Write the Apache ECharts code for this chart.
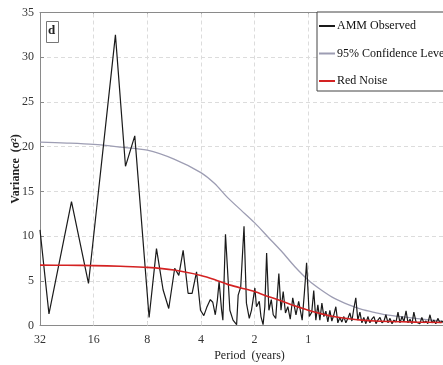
<!DOCTYPE html>
<html><head><meta charset="utf-8">
<script src="https://cdn.jsdelivr.net/npm/echarts@6/dist/echarts.min.js"></script>
<style>html,body{margin:0;padding:0;background:#fff}#c{width:443px;height:365px}</style>
</head><body><div id="c"></div>
<script>
// Period (years) and variance of the observed AMM spectrum
const obsPeriod = [32, 28.5, 21.3, 17.1, 12.07, 10.6, 9.40, 7.81, 7.10, 6.52,
  6.06, 5.61, 5.32, 5.03, 4.72, 4.48, 4.23, 4.02, 3.85, 3.71,
  3.54, 3.43, 3.32, 3.23, 3.16, 3.06, 3.01, 2.91, 2.75, 2.64,
  2.52, 2.47, 2.39, 2.29, 2.22, 2.14, 2.08, 1.99, 1.95, 1.88,
  1.84, 1.79, 1.75, 1.71, 1.66, 1.61, 1.57, 1.52, 1.46, 1.42,
  1.38, 1.34, 1.30, 1.26, 1.22, 1.17, 1.13, 1.08, 1.05, 1.02,
  0.985, 0.954, 0.93, 0.905, 0.882,
  0.859, 0.837, 0.816, 0.795, 0.775, 0.755, 0.736, 0.717, 0.699, 0.681,
  0.664, 0.647, 0.630, 0.614, 0.598, 0.583, 0.568, 0.554, 0.540, 0.526,
  0.512, 0.499, 0.487, 0.474, 0.462, 0.450, 0.439, 0.427, 0.416, 0.406,
  0.395, 0.385, 0.375, 0.366, 0.356, 0.347, 0.338, 0.330, 0.321, 0.313,
  0.305, 0.297, 0.290, 0.282, 0.275, 0.268, 0.261, 0.255, 0.248, 0.242,
  0.236, 0.230, 0.224, 0.218, 0.213, 0.207, 0.202, 0.197, 0.192, 0.187,
  0.182, 0.177, 0.173];
const obsVariance = [10.7, 1.3, 13.85, 4.7, 32.5, 17.8, 21.2, 0.9, 8.6, 4.0,
  1.9, 6.4, 5.6, 8.4, 3.6, 3.6, 6.0, 1.7, 1.1, 2.0,
  2.9, 2.6, 1.2, 2.9, 4.9, 1.7, 0.6, 10.2, 1.7, 0.6,
  0.1, 3.4, 4.3, 11.1, 2.5, 0.8, 1.7, 4.2, 2.1, 2.7,
  1.0, 0.1, 2.1, 8.1, 1.7, 2.9, 1.2, 0.8, 5.8, 1.7,
  3.8, 1.4, 2.1, 0.7, 3.1, 1.2, 2.7, 0.6, 3.6, 7.0,
  1.0, 1.5, 3.9, 0.6, 2.3,
  0.6, 2.5, 1.0, 1.6, 0.4, 1.7, 0.5, 1.2, 2.1, 0.3,
  0.9, 0.4, 1.0, 0.3, 0.8, 1.4, 0.5, 1.9, 3.1, 0.6,
  1.5, 0.3, 0.9, 0.2, 1.0, 0.3, 0.7, 1.0, 0.2, 0.6,
  0.9, 0.3, 0.5, 1.2, 0.3, 0.8, 0.2, 0.6, 0.4, 1.5,
  0.3, 1.0, 0.4, 1.65, 0.3, 0.7, 0.2, 1.5, 0.4, 0.6,
  0.2, 0.9, 0.3, 0.5, 0.2, 1.2, 0.3, 0.6, 0.2, 0.8,
  0.3, 0.5, 0.2];
// Theoretical curves
const curvePeriod = [32, 22.6, 16, 11.3, 8, 5.66, 4, 3.36, 2.83, 2.38, 2, 1.68, 1.41, 1.19, 1, 0.84, 0.707, 0.59, 0.5, 0.42, 0.354, 0.25, 0.177];
const redNoise = [6.75, 6.73, 6.7, 6.62, 6.5, 6.2, 5.6, 5.15, 4.6, 4.2, 3.8, 3.25, 2.75, 2.2, 1.7, 1.3, 0.98, 0.75, 0.6, 0.5, 0.45, 0.38, 0.33];
const confidence95 = [20.5, 20.4, 20.25, 19.95, 19.6, 18.6, 17.1, 15.9, 14.3, 12.9, 11.5, 9.9, 8.3, 6.6, 5.1, 3.95, 3.0, 2.3, 1.8, 1.45, 1.15, 0.8, 0.5];
const xTicks = [32, 16, 8, 4, 2, 1];
const seriesNames = ['AMM Observed', '95% Confidence Level', 'Red Noise'];

const serif = 'Liberation Serif, Times New Roman, serif';
const zip = (xs, ys) => xs.map((x, i) => [x, ys[i]]);

const chart = echarts.init(document.getElementById('c'), null, {renderer: 'canvas'});
const xBase = {
  type: 'log', logBase: 2, min: 0.125, max: 32, inverse: true,
  axisLine: {show: true, lineStyle: {color: '#8a8a8a', width: 1}},
  splitLine: {show: false}
};
chart.setOption({
  animation: false,
  backgroundColor: '#fff',
  grid: {left: 40, top: 12.5, right: -26, bottom: 39.5, containLabel: false, outerBoundsMode: 'none'},
  xAxis: [
    Object.assign({}, xBase, {
      position: 'bottom',
      name: 'Period  (years)', nameLocation: 'middle', nameGap: 24, nameMoveOverlap: false,
      nameTextStyle: {fontFamily: serif, fontSize: 12, color: '#222', padding: [0, 10, 0, 0]},
      axisTick: {show: true, inside: true, length: 4, customValues: xTicks, lineStyle: {color: '#8a8a8a'}},
      axisLabel: {show: true, customValues: xTicks, margin: 8, fontFamily: serif, fontSize: 12, color: '#333',
        formatter: v => String(Math.round(v))}
    }),
    Object.assign({}, xBase, {
      position: 'top',
      axisTick: {show: true, inside: true, length: 4, customValues: xTicks, lineStyle: {color: '#8a8a8a'}},
      axisLabel: {show: false}
    })
  ],
  yAxis: {
    type: 'value', min: 0, max: 35, interval: 5,
    name: 'Variance  (σ²)', nameLocation: 'middle', nameGap: 18, nameRotate: 90, nameMoveOverlap: false,
    nameTextStyle: {fontFamily: serif, fontSize: 12, fontWeight: 'bold', color: '#222'},
    axisLine: {show: true, lineStyle: {color: '#8a8a8a'}},
    axisTick: {show: true, inside: true, length: 4, lineStyle: {color: '#8a8a8a'}},
    axisLabel: {margin: 6, fontFamily: serif, fontSize: 12, color: '#333'},
    splitLine: {show: true, showMinLine: false, showMaxLine: false, lineStyle: {type: [4, 3], color: '#dcdcdc', width: 1}}
  },
  legend: {
    orient: 'vertical', left: 317, top: 12,
    padding: [7, 40, 3, 2], itemGap: 13.5, itemWidth: 16, itemHeight: 2, icon: 'rect',
    backgroundColor: '#fff', borderColor: '#444', borderWidth: 1, borderRadius: 0,
    textStyle: {fontFamily: serif, fontSize: 12, lineHeight: 14, color: '#111', padding: [0, 0, 0, -3]},
    data: seriesNames
  },
  graphic: [
    {type: 'rect', left: 46, top: 21, shape: {width: 12, height: 21}, style: {fill: '#fff', stroke: '#777', lineWidth: 1}, z: 10},
    {type: 'text', left: 48, top: 24, style: {text: 'd', font: 'bold 13px ' + serif, fill: '#222'}, z: 11}
  ],
  series: [
    {
      type: 'line', name: 'grid', data: [], z: 1, silent: true,
      markLine: {
        silent: true, z: 1, symbol: ['none', 'none'], label: {show: false},
        lineStyle: {type: [4, 3], color: '#dcdcdc', width: 1},
        data: xTicks.slice(1).map(v => ({xAxis: v}))
      }
    },
    {
      type: 'line', name: seriesNames[1], data: zip(curvePeriod, confidence95), z: 3,
      smooth: 0.3, symbol: 'none', lineStyle: {color: '#9d9db3', width: 1.3}, itemStyle: {color: '#9d9db3'}
    },
    {
      type: 'line', name: seriesNames[0], data: zip(obsPeriod, obsVariance), z: 4,
      symbol: 'none', lineStyle: {color: '#1a1a1a', width: 1.2}, itemStyle: {color: '#1a1a1a'}
    },
    {
      type: 'line', name: seriesNames[2], data: zip(curvePeriod, redNoise), z: 5,
      smooth: 0.3, symbol: 'none', lineStyle: {color: '#d42222', width: 1.6}, itemStyle: {color: '#d42222'}
    }
  ]
});
</script>
</body></html>
